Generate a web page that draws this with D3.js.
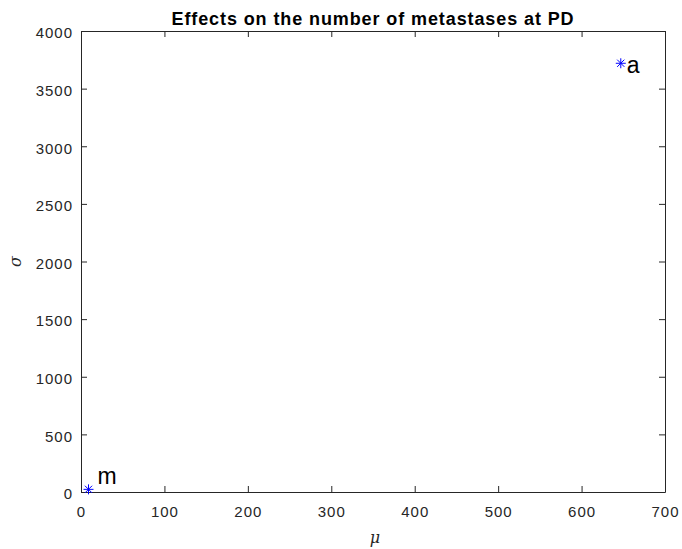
<!DOCTYPE html>
<html>
<head>
<meta charset="utf-8">
<script src="https://cdn.jsdelivr.net/npm/d3@7"></script>
<style>
  html, body { margin: 0; padding: 0; background: #fff; }
  svg { display: block; font-family: "Liberation Sans", Arial, sans-serif; }
</style>
</head>
<body>
<svg id="chart" width="682" height="549"></svg>
<script>
// Scatter of mean vs. standard deviation for each parameter
const labels = ["a", "m"];
const muValues = [647, 9];
const sigmaValues = [3720, 23];
const xTicks = [0, 100, 200, 300, 400, 500, 600, 700];
const yTicks = [0, 500, 1000, 1500, 2000, 2500, 3000, 3500, 4000];

const svg = d3.select("#chart");
const margin = { left: 81, right: 17, top: 31, bottom: 57 };
const W = 682, H = 549;
const x = d3.scaleLinear().domain([0, 700]).range([margin.left, W - margin.right]);
const y = d3.scaleLinear().domain([0, 4000]).range([H - margin.bottom, margin.top]);
const axisColor = "#262626";
const tickLen = 6;
const fmt = d3.format("d");

// Bottom axis with labels, ticks pointing inward
const gx = svg.append("g").attr("transform", `translate(0,${y(0)})`)
  .call(d3.axisBottom(x).tickValues(xTicks).tickFormat(fmt).tickSizeInner(-tickLen).tickSizeOuter(0).tickPadding(14));
// Top axis: ticks only
const gxt = svg.append("g").attr("transform", `translate(0,${y(4000)})`)
  .call(d3.axisTop(x).tickValues(xTicks).tickSizeInner(-tickLen).tickSizeOuter(0).tickFormat(""));
// Left axis with labels
const gy = svg.append("g").attr("transform", `translate(${x(0)},0)`)
  .call(d3.axisLeft(y).tickValues(yTicks).tickFormat(fmt).tickSizeInner(-tickLen).tickSizeOuter(0).tickPadding(8));
// Right axis: ticks only
const gyr = svg.append("g").attr("transform", `translate(${x(700)},0)`)
  .call(d3.axisRight(y).tickValues(yTicks).tickSizeInner(-tickLen).tickSizeOuter(0).tickFormat(""));

[gx, gxt, gy, gyr].forEach(g => {
  g.select(".domain").attr("stroke", axisColor).attr("stroke-width", 1);
  g.selectAll(".tick line").attr("stroke", axisColor).attr("stroke-width", 1);
  g.selectAll(".tick text").attr("fill", axisColor).style("font-size", "15px")
    .style("letter-spacing", "1px")
    .style("font-family", "'Liberation Sans', Arial, sans-serif");
});
gx.selectAll(".tick text").attr("dy", "0.71em");
gy.selectAll(".tick text").attr("dy", "0.45em");

// Title
svg.append("text")
  .attr("x", (x(0) + x(700)) / 2).attr("y", 25)
  .attr("text-anchor", "middle")
  .style("font-size", "18px").style("font-weight", "bold")
  .style("letter-spacing", "0.9px")
  .attr("fill", "#000")
  .text("Effects on the number of metastases at PD");

// Axis labels
svg.append("text")
  .attr("x", (x(0) + x(700)) / 2 + 2).attr("y", 543)
  .attr("text-anchor", "middle")
  .style("font-size", "16px").style("font-style", "italic")
  .style("font-family", "'DejaVu Serif', 'Liberation Serif', serif")
  .attr("fill", axisColor)
  .text("μ");
svg.append("text")
  .attr("transform", `translate(21,${(y(0) + y(4000)) / 2}) rotate(-90)`)
  .attr("text-anchor", "middle")
  .style("font-size", "16px").style("font-style", "italic")
  .style("font-family", "'DejaVu Serif', 'Liberation Serif', serif")
  .attr("fill", axisColor)
  .text("σ");

// Asterisk markers
const pts = labels.map((l, i) => ({ label: l, mu: muValues[i], sigma: sigmaValues[i] }));
const star = "M-5,0L5,0M0,-5L0,5M-3.6,-3.6L3.6,3.6M-3.6,3.6L3.6,-3.6";
svg.append("g").selectAll("path").data(pts).join("path")
  .attr("transform", d => `translate(${x(d.mu)},${y(d.sigma)})`)
  .attr("d", star)
  .attr("stroke", "#0000ff").attr("stroke-width", 1).attr("fill", "none");

// Point labels
const offsets = { a: [6, 10], m: [9, -5] };
svg.append("g").selectAll("text").data(pts).join("text")
  .attr("x", d => x(d.mu) + offsets[d.label][0])
  .attr("y", d => y(d.sigma) + offsets[d.label][1])
  .style("font-size", "23px")
  .attr("fill", "#000")
  .text(d => d.label);
</script>
</body>
</html>
